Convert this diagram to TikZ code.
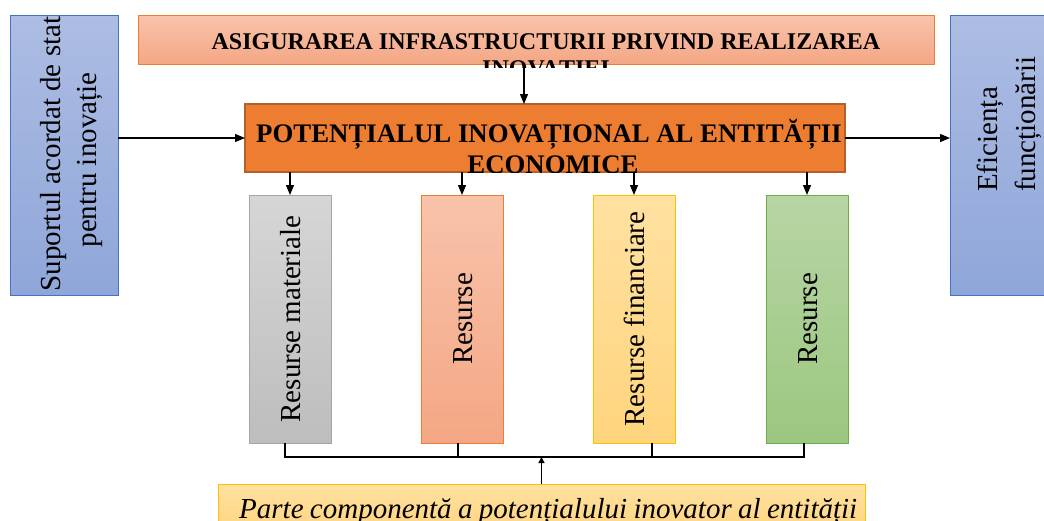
\documentclass[tikz,border=0pt]{standalone}
\usepackage{fontspec}
\setmainfont{Liberation Serif}
\usetikzlibrary{arrows.meta,calc}
\definecolor{bluet}{HTML}{ADBDE3}
\definecolor{blueb}{HTML}{8FA6D9}
\definecolor{bluebd}{HTML}{4472C4}
\definecolor{salt}{HTML}{F8C3AB}
\definecolor{salb}{HTML}{F4A784}
\definecolor{orbd}{HTML}{ED7D31}
\definecolor{mainf}{HTML}{ED7D31}
\definecolor{mainbd}{HTML}{B5602A}
\definecolor{grayt}{HTML}{D6D6D6}
\definecolor{grayb}{HTML}{BDBDBD}
\definecolor{graybd}{HTML}{A5A5A5}
\definecolor{yelt}{HTML}{FFE1A1}
\definecolor{yelb}{HTML}{FFD47D}
\definecolor{yelbd}{HTML}{FFC000}
\definecolor{grnt}{HTML}{B7D5A4}
\definecolor{grnb}{HTML}{9CC780}
\definecolor{grnbd}{HTML}{70AD47}
\begin{document}
\begin{tikzpicture}[x=1pt,y=-1pt,
  bx/.style={draw, line width=1pt, inner sep=0pt, outer sep=0pt, rectangle},
  conn/.style={line width=1.2pt},
  arr/.style={conn,-{Triangle[length=10pt,width=8pt]}},
  sarr/.style={conn,-{Triangle[length=6pt,width=6pt]}},
  vt/.style={rotate=90, inner sep=0pt, font=\fontsize{29}{33}\selectfont},
  rbox/.style={bx, minimum width=82pt, minimum height=248pt}
]
\useasboundingbox (0,0) rectangle (1044,520);
\clip (0,0) rectangle (1044,520);

% boxes
\node[bx, draw=bluebd, top color=bluet, bottom color=blueb, minimum width=108pt, minimum height=280pt] (sup) at (64,155) {};
\node[bx, draw=bluebd, top color=bluet, bottom color=blueb, minimum width=100pt, minimum height=280pt] (eff) at (1000,155) {};
\node[bx, draw=orbd, top color=salt, bottom color=salb, minimum width=796pt, minimum height=49pt] (infra) at (536,39.5) {};
\node[bx, draw=mainbd, line width=1.8pt, fill=mainf, minimum width=600pt, minimum height=68pt] (pot) at (545,138) {};
\node[rbox, draw=graybd, top color=grayt, bottom color=grayb] (r1) at (290,319) {};
\node[rbox, draw=orbd, top color=salt, bottom color=salb] (r2) at (462,319) {};
\node[rbox, draw=yelbd, top color=yelt, bottom color=yelb] (r3) at (634,319) {};
\node[rbox, draw=grnbd, top color=grnt, bottom color=grnb] (r4) at (807,319) {};
\node[bx, draw=yelbd, top color=yelt, bottom color=yelb, minimum width=647pt, minimum height=52pt] (parte) at (541.5,510) {};

% texts
\begin{scope}
  \clip (138,15) rectangle (934,67);
  \node[anchor=base, inner sep=0pt, font=\bfseries\fontsize{24}{27}\selectfont] (t1) at (546,49) {ASIGURAREA INFRASTRUCTURII PRIVIND REALIZAREA};
  \node[anchor=base, inner sep=0pt, font=\bfseries\fontsize{24}{27}\selectfont] (t2) at (546,76) {INOVAȚIEI};
\end{scope}
\begin{scope}
  \clip (245,104) rectangle (845,172);
  \node[anchor=base, inner sep=0pt, font=\bfseries\fontsize{26.8}{31}\selectfont] (p1) at (549,142) {POTENȚIALUL INOVAȚIONAL AL ENTITĂȚII};
  \node[anchor=base, inner sep=0pt, font=\bfseries\fontsize{26.8}{31}\selectfont] (p2) at (553,173) {ECONOMICE};
\end{scope}
\begin{scope}
  \clip (10,15) rectangle (118,295);
  \node[vt, anchor=base] (s1) at (60,154) {Suportul acordat de stat};
  \node[vt, anchor=base] (s2) at (96,160) {pentru inovație};
\end{scope}
\node[vt, anchor=base west] (e1) at (997,192) {Eficiența};
\node[vt, anchor=base west] (e2) at (1035,192) {funcționării};
\node[vt, anchor=base] (l1) at ($(r1.center)+(10,0)$) {Resurse materiale};
\node[vt, anchor=base] (l2) at ($(r2.center)+(10,0)$) {Resurse};
\node[vt, anchor=base] (l3) at ($(r3.center)+(10,0)$) {Resurse financiare};
\node[vt, anchor=base] (l4) at ($(r4.center)+(10,0)$) {Resurse};
\node[anchor=base west, inner sep=0pt, font=\itshape\fontsize{29}{33}\selectfont] (pt) at (239,518)
  {\hbox to 618pt{Parte\hfill componentă\hfill a\hfill potențialului\hfill inovator\hfill al\hfill entității}};

% connectors
\draw[arr] ([xshift=-12pt]infra.south) -- ([xshift=-21pt]pot.north);
\draw[arr] (sup.east |- pot.west) -- (pot.west);
\draw[arr] (pot.east) -- (pot.east -| eff.west);
\foreach \r in {r1,r2,r3,r4}{
  \draw[arr] (\r.north |- pot.south) -- (\r.north);
}
\coordinate (bus) at (0,457);
\draw[conn] ([xshift=-5pt]r1.south) |- ([xshift=-3pt]r4.south |- bus) -- ([xshift=-3pt]r4.south);
\draw[conn] ([xshift=-4pt]r2.south) -- ([xshift=-4pt]r2.south |- bus);
\draw[conn] ([xshift=18pt]r3.south) -- ([xshift=18pt]r3.south |- bus);
\draw[sarr] (parte.north) -- (parte.north |- bus);
\end{tikzpicture}
\end{document}
